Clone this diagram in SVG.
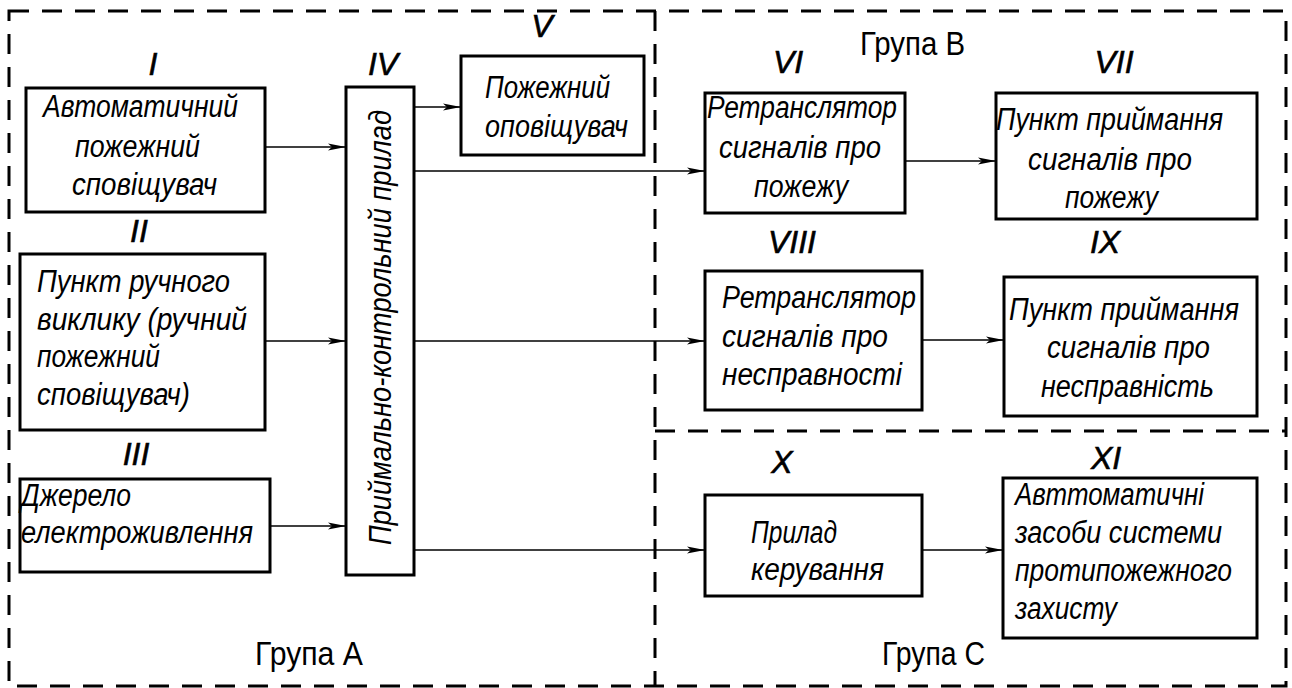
<svg xmlns="http://www.w3.org/2000/svg" width="1292" height="688" viewBox="0 0 1292 688">
  <defs>
    <style>
      .frame { fill: none; stroke: #000; stroke-width: 3; stroke-dasharray: 20 13; }
      .box { fill: #fff; stroke: #000; stroke-width: 3; }
      .lbl { font-family: "Liberation Sans", "DejaVu Sans", sans-serif; font-style: italic; font-size: 31px; fill: #000; }
      .num { font-family: "Liberation Sans", "DejaVu Sans", sans-serif; font-style: italic; font-size: 32px; fill: #000; stroke: #000; stroke-width: 0.6; text-anchor: middle; }
      .grp { font-family: "Liberation Sans", "DejaVu Sans", sans-serif; font-size: 34px; fill: #000; }
      .wire { fill: none; stroke: #000; stroke-width: 1.3; marker-end: url(#arr); }
    </style>
    <marker id="arr" viewBox="0 0 18 9" refX="18" refY="4.5" markerWidth="18" markerHeight="9" markerUnits="userSpaceOnUse" orient="auto">
      <path d="M0,1 L18,4.5 L0,8 L4,4.5 Z" fill="#000"/>
    </marker>
  </defs>

  <!-- group boundaries -->
  <g id="groups">
    <rect class="frame" x="9" y="11" width="1277" height="675"/>
    <line class="frame" x1="655" y1="11" x2="655" y2="686"/>
    <line class="frame" x1="655" y1="431" x2="1286" y2="431"/>
    <text class="grp" x="255" y="665" textLength="108" lengthAdjust="spacingAndGlyphs">Група А</text>
    <text class="grp" x="860" y="55" textLength="105" lengthAdjust="spacingAndGlyphs">Група В</text>
    <text class="grp" x="882" y="665" textLength="103" lengthAdjust="spacingAndGlyphs">Група С</text>
  </g>

  <!-- connectors -->
  <g id="connectors">
    <line class="wire" x1="265" y1="147" x2="346" y2="147"/>
    <line class="wire" x1="265" y1="341" x2="346" y2="341"/>
    <line class="wire" x1="270" y1="526" x2="346" y2="526"/>
    <line class="wire" x1="414" y1="107" x2="461" y2="107"/>
    <line class="wire" x1="414" y1="171" x2="705" y2="171"/>
    <line class="wire" x1="414" y1="341" x2="705" y2="341"/>
    <line class="wire" x1="414" y1="550" x2="705" y2="550"/>
    <line class="wire" x1="905" y1="161" x2="996" y2="161"/>
    <line class="wire" x1="922" y1="340" x2="1004" y2="340"/>
    <line class="wire" x1="922" y1="550" x2="1003" y2="550"/>
  </g>

  <!-- I -->
  <g id="node-I">
    <rect class="box" x="26" y="88" width="239" height="124"/>
    <text class="num" x="153" y="75">I</text>
    <text class="lbl" x="43" y="117" textLength="195" lengthAdjust="spacingAndGlyphs">Автоматичний</text>
    <text class="lbl" x="75" y="157" textLength="125" lengthAdjust="spacingAndGlyphs">пожежний</text>
    <text class="lbl" x="72" y="195" textLength="145" lengthAdjust="spacingAndGlyphs">сповіщувач</text>
  </g>

  <!-- II -->
  <g id="node-II">
    <rect class="box" x="20" y="254" width="245" height="176"/>
    <text class="num" x="139" y="242">II</text>
    <text class="lbl" x="37" y="292" textLength="193" lengthAdjust="spacingAndGlyphs">Пункт ручного</text>
    <text class="lbl" x="37" y="330" textLength="210" lengthAdjust="spacingAndGlyphs">виклику (ручний</text>
    <text class="lbl" x="37" y="367" textLength="123" lengthAdjust="spacingAndGlyphs">пожежний</text>
    <text class="lbl" x="37" y="405" textLength="153" lengthAdjust="spacingAndGlyphs">сповіщувач)</text>
  </g>

  <!-- III -->
  <g id="node-III">
    <rect class="box" x="20" y="479" width="250" height="93"/>
    <text class="num" x="136" y="465">III</text>
    <text class="lbl" x="21" y="506" textLength="110" lengthAdjust="spacingAndGlyphs">Джерело</text>
    <text class="lbl" x="21" y="543" textLength="232" lengthAdjust="spacingAndGlyphs">електроживлення</text>
  </g>

  <!-- IV -->
  <g id="node-IV">
    <rect class="box" x="346" y="87" width="68" height="488"/>
    <text class="num" x="383" y="75">IV</text>
    <text class="lbl" transform="translate(391,545) rotate(-90)" textLength="435" lengthAdjust="spacingAndGlyphs">Приймально-контрольний прилад</text>
  </g>

  <!-- V -->
  <g id="node-V">
    <rect class="box" x="461" y="56" width="183" height="99"/>
    <text class="num" x="542" y="37">V</text>
    <text class="lbl" x="485" y="98" textLength="125" lengthAdjust="spacingAndGlyphs">Пожежний</text>
    <text class="lbl" x="485" y="137" textLength="143" lengthAdjust="spacingAndGlyphs">оповіщувач</text>
  </g>

  <!-- VI -->
  <g id="node-VI">
    <rect class="box" x="705" y="93" width="200" height="120"/>
    <text class="num" x="788" y="73">VI</text>
    <text class="lbl" x="707" y="118" textLength="190" lengthAdjust="spacingAndGlyphs">Ретранслятор</text>
    <text class="lbl" x="719" y="158" textLength="162" lengthAdjust="spacingAndGlyphs">сигналів про</text>
    <text class="lbl" x="754" y="197" textLength="94" lengthAdjust="spacingAndGlyphs">пожежу</text>
  </g>

  <!-- VII -->
  <g id="node-VII">
    <rect class="box" x="996" y="93" width="261" height="126"/>
    <text class="num" x="1114" y="73">VII</text>
    <text class="lbl" x="996" y="130" textLength="227" lengthAdjust="spacingAndGlyphs">Пункт приймання</text>
    <text class="lbl" x="1028" y="170" textLength="164" lengthAdjust="spacingAndGlyphs">сигналів про</text>
    <text class="lbl" x="1065" y="208" textLength="93" lengthAdjust="spacingAndGlyphs">пожежу</text>
  </g>

  <!-- VIII -->
  <g id="node-VIII">
    <rect class="box" x="705" y="271" width="217" height="139"/>
    <text class="num" x="792" y="253">VIII</text>
    <text class="lbl" x="722" y="308" textLength="194" lengthAdjust="spacingAndGlyphs">Ретранслятор</text>
    <text class="lbl" x="722" y="347" textLength="166" lengthAdjust="spacingAndGlyphs">сигналів про</text>
    <text class="lbl" x="722" y="385" textLength="180" lengthAdjust="spacingAndGlyphs">несправності</text>
  </g>

  <!-- IX -->
  <g id="node-IX">
    <rect class="box" x="1004" y="277" width="253" height="139"/>
    <text class="num" x="1105" y="253">IX</text>
    <text class="lbl" x="1009" y="320" textLength="230" lengthAdjust="spacingAndGlyphs">Пункт приймання</text>
    <text class="lbl" x="1047" y="358" textLength="163" lengthAdjust="spacingAndGlyphs">сигналів про</text>
    <text class="lbl" x="1041" y="397" textLength="173" lengthAdjust="spacingAndGlyphs">несправність</text>
  </g>

  <!-- X -->
  <g id="node-X">
    <rect class="box" x="705" y="495" width="217" height="101"/>
    <text class="num" x="782" y="473">X</text>
    <text class="lbl" x="751" y="543" textLength="86" lengthAdjust="spacingAndGlyphs">Прилад</text>
    <text class="lbl" x="751" y="580" textLength="133" lengthAdjust="spacingAndGlyphs">керування</text>
  </g>

  <!-- XI -->
  <g id="node-XI">
    <rect class="box" x="1003" y="478" width="254" height="160"/>
    <text class="num" x="1106" y="469">XI</text>
    <text class="lbl" x="1015" y="505" textLength="189" lengthAdjust="spacingAndGlyphs">Авттоматичні</text>
    <text class="lbl" x="1015" y="543" textLength="207" lengthAdjust="spacingAndGlyphs">засоби системи</text>
    <text class="lbl" x="1015" y="581" textLength="217" lengthAdjust="spacingAndGlyphs">протипожежного</text>
    <text class="lbl" x="1015" y="619" textLength="102" lengthAdjust="spacingAndGlyphs">захисту</text>
  </g>
</svg>
